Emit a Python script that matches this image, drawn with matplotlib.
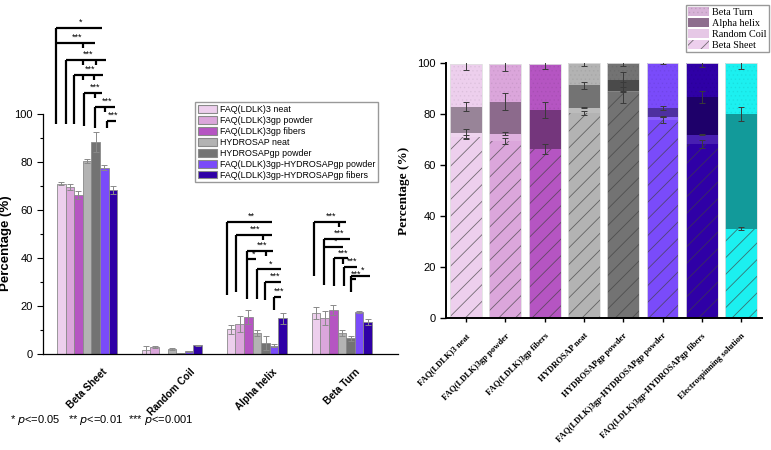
import numpy as np
import matplotlib
matplotlib.use("Agg")
import matplotlib.pyplot as plt
from matplotlib.patches import Patch
from matplotlib.colors import to_rgb
from matplotlib.transforms import ScaledTranslation

plt.rcParams['font.family'] = ['Liberation Sans', 'DejaVu Sans']
plt.rcParams['hatch.linewidth'] = 0.6

# samples and secondary structure content (%)
samples = ["FAQ(LDLK)3 neat", "FAQ(LDLK)3gp powder", "FAQ(LDLK)3gp fibers",
           "HYDROSAP neat", "HYDROSAPgp powder",
           "FAQ(LDLK)3gp-HYDROSAPgp powder", "FAQ(LDLK)3gp-HYDROSAPgp fibers"]
structures = ["Beta Sheet", "Random Coil", "Alpha helix", "Beta Turn"]

beta_sheet = [71.0, 69.5, 66.3, 80.5, 88.5, 77.7, 68.3]
beta_sheet_err = [0.7, 1.2, 1.8, 0.8, 4.2, 1.2, 1.6]
random_coil = [1.5, 2.8, 0.0, 2.0, 0.4, 1.2, 3.6]
random_coil_err = [1.8, 0.5, 0.0, 0.3, 0.1, 0.2, 0.1]
alpha_helix = [10.3, 12.5, 15.3, 8.7, 4.5, 3.5, 14.8]
alpha_helix_err = [1.8, 3.3, 3.0, 1.3, 3.0, 0.7, 2.3]
beta_turn = [17.0, 15.0, 18.2, 8.7, 6.5, 17.5, 13.2]
beta_turn_err = [2.6, 2.8, 2.1, 1.2, 1.0, 0.3, 1.3]

# electrospinning solution (only in the stacked chart)
es_name = "Electrospinning solution"
es_values = [35.0, 0.0, 45.0, 20.0]
es_err = [0.5, 0.0, 2.6, 2.3]

colors = ['#EDCFED', '#DBA6DB', '#B555C2', '#B3B3B3', '#737373', '#7A4BFA', '#2F00A6']
es_color = '#1CF0F0'

# significance brackets: (group, start slot, end slot, top, bottom, tick slots, label)
brackets = [
    (0, -0.62, 4.73, 135.8, 96.0, [], '*'),
    (0, -0.62, 3.92, 129.6, None, [2.52], '***'),
    (0, 0.55, 5.2, 122.5, 96.0, [2.52, 4.03], '***'),
    (0, 1.48, 4.85, 116.3, 96.0, [2.52, 3.8], '***'),
    (0, 2.64, 4.73, 108.75, 95.0, [3.9], '***'),
    (0, 3.92, 6.24, 102.9, 94.0, [5.08], '***'),
    (0, 5.31, 6.36, 97.1, 94.0, [], '***'),
    (2, -0.47, 4.77, 55.1, 24.6, [], '**'),
    (2, 0.51, 4.7, 49.6, 26.0, [3.72], '***'),
    (2, 1.86, 4.88, 43.0, 22.9, [4.0], '***'),
    (2, 1.86, 2.87, 39.5, None, [], '*'),
    (2, 3.0, 5.77, 35.3, 22.9, [], '*'),
    (2, 3.98, 5.77, 30.1, 22.5, [], '***'),
    (2, 4.95, 5.84, 23.9, 18.3, [], '***'),
    (3, -0.23, 3.43, 55.1, 32.5, [2.67], '***'),
    (3, 0.9, 3.97, 47.9, 28.75, [], '***'),
    (3, 0.9, 3.15, 44.7, None, [], '*'),
    (3, 2.09, 3.72, 39.9, 28.3, [3.07], '***'),
    (3, 3.24, 4.72, 36.4, 28.3, [], '***'),
    (3, 4.1, 6.3, 32.5, 26.0, [], '*'),
    (3, 4.1, 4.69, 31.1, None, [], '***'),
]

data = np.array([beta_sheet, random_coil, alpha_helix, beta_turn])
errs = np.array([beta_sheet_err, random_coil_err, alpha_helix_err, beta_turn_err])

fig = plt.figure(figsize=(7.71, 4.5), dpi=100)

# ---------------- left: grouped bars ----------------
ax = fig.add_axes([43 / 771, 1 - 354 / 450, (398 - 43) / 771, (354 - 114) / 450])
groups = np.arange(len(structures))
bw = 0.1012
for i, c in enumerate(colors):
    x = groups + (i - 3) * bw
    ax.bar(x, data[:, i], bw, color=c, edgecolor='#8a8a8a', linewidth=0.6, label=samples[i])
    m = data[:, i] > 0
    ax.errorbar(x[m], data[m, i], yerr=errs[m, i], fmt='none', ecolor='#8a8a8a',
                elinewidth=0.7, capsize=2, capthick=0.7)

for g, u0, u1, top, bottom, ticks, lab in brackets:
    x0 = g + (u0 - 3) * bw
    x1 = g + (u1 - 3) * bw
    kw = dict(color='black', lw=1.6, clip_on=False, solid_capstyle='butt')
    ax.plot([x0, x1], [top, top], **kw)
    if bottom is not None:
        ax.plot([x0, x0], [bottom, top], **kw)
    for t in ticks:
        xt = g + (t - 3) * bw
        ax.plot([xt, xt], [top, top - 2.2], **kw)
    ax.text((x0 + x1) / 2 + 0.02, top + 0.4, lab, ha='center', va='bottom',
            fontsize=6.5, clip_on=False)

ax.set_xlim(-0.518, 3.66)
ax.set_ylim(0, 100)
ax.set_yticks(range(0, 101, 20))
ax.set_yticks(range(10, 100, 20), minor=True)
ax.set_xticks(groups)
ax.set_xticklabels(structures, rotation=45, ha='center', va='top', fontsize=7.2, fontweight='bold')
ax.tick_params(axis='x', length=0, pad=9)
ax.tick_params(axis='y', labelsize=8, length=4, width=0.8)
ax.tick_params(axis='y', which='minor', length=2.5, width=0.8)
ax.set_ylabel('Percentage (%)', fontsize=9.5, fontweight='bold')
ax.yaxis.set_label_coords(-31 / 355, 0.46)
for s in ['top', 'right']:
    ax.spines[s].set_visible(False)
for s in ['left', 'bottom']:
    ax.spines[s].set_linewidth(0.9)

handles = [Patch(facecolor=c, edgecolor='#8a8a8a', linewidth=0.8) for c in colors]
fig.legend(handles, samples, loc='upper left', bbox_to_anchor=(195 / 771, 1 - 102 / 450),
           fontsize=6.4, frameon=True, fancybox=False, edgecolor='#999999', framealpha=1,
           borderpad=0.3, labelspacing=0.22, handlelength=2.2, handleheight=1.0,
           handletextpad=0.35, borderaxespad=0)

notes = [(10, '* $\\it{p}$<=0.05'), (68, '** $\\it{p}$<=0.01'), (128, '*** $\\it{p}$<=0.001')]
for px, s in notes:
    fig.text(px / 771, 1 - 420 / 450, s, fontsize=8, va='center', ha='left')

# ---------------- right: stacked bars ----------------
ax2 = fig.add_axes([446 / 771, 1 - 318 / 450, (762 - 446) / 771, (318 - 63) / 450])
names2 = samples + [es_name]
stack = np.column_stack([data, es_values])
stack_err = np.column_stack([errs, es_err])
cols2 = colors + [es_color]
xs = np.arange(len(names2))
w2 = 0.81


def shade(c, f):
    r = np.array(to_rgb(c))
    return tuple(r * f)


def tint(c, f):
    r = np.array(to_rgb(c))
    return tuple(r + (1 - r) * f)


bottoms = np.zeros(len(names2))
for k, name in enumerate(structures):
    for j in range(len(names2)):
        base = cols2[j]
        if name == 'Beta Sheet':
            fc, hatch, hc = base, '//', (0.25, 0.25, 0.25, 0.7)
        elif name == 'Random Coil':
            fc, hatch, hc = tint(base, 0.12), None, (0, 0, 0, 0)
        elif name == 'Alpha helix':
            fc, hatch, hc = shade(base, 0.64), None, (0, 0, 0, 0)
        else:
            fc, hatch, hc = base, '....', (0, 0, 0, 0.05)
        ax2.bar(xs[j], stack[k, j], w2, bottom=bottoms[j], color=fc, hatch=hatch,
                edgecolor=hc, linewidth=0)
    tops = bottoms + stack[k]
    m = stack[k] > 0
    ax2.errorbar(xs[m], tops[m], yerr=stack_err[k, m], fmt='none', ecolor='#3a3a3a',
                 elinewidth=0.7, capsize=2, capthick=0.7)
    bottoms = tops

ax2.bar(xs, bottoms, w2, fill=False, edgecolor='#e0e0e0', linewidth=0.6)

ax2.set_xlim(-0.51, 7.53)
ax2.set_ylim(0, 100)
ax2.set_yticks(range(0, 101, 20))
ax2.set_xticks(xs)
ax2.set_xticklabels(names2, rotation=45, ha='right', rotation_mode='anchor',
                    fontsize=6.2, fontweight='bold', family=['Liberation Serif', 'DejaVu Serif'])
shift = ScaledTranslation(6 / 100, 0, fig.dpi_scale_trans)
for lbl in ax2.get_xticklabels():
    lbl.set_transform(lbl.get_transform() + shift)
ax2.tick_params(axis='y', labelsize=8, length=4, width=1)
ax2.tick_params(axis='x', length=3, width=1, pad=7)
ax2.set_ylabel('Percentage (%)', fontsize=9.5, fontweight='bold',
               family=['Liberation Serif', 'DejaVu Serif'])
ax2.yaxis.set_label_coords(-36 / 316, 0.5)
for s in ['top', 'right']:
    ax2.spines[s].set_visible(False)
for s in ['left', 'bottom']:
    ax2.spines[s].set_linewidth(1.4)

lg_handles = [Patch(facecolor='#D7B3D7', hatch='....', edgecolor=(0, 0, 0, 0.08), linewidth=0),
              Patch(facecolor='#8E6E8E', linewidth=0),
              Patch(facecolor='#E6C8E6', linewidth=0),
              Patch(facecolor='#EDCFED', hatch='//', edgecolor=(0.25, 0.25, 0.25, 0.7), linewidth=0)]
lg_labels = ['Beta Turn', 'Alpha helix', 'Random Coil', 'Beta Sheet']
fig.legend(lg_handles, lg_labels, loc='upper right', bbox_to_anchor=(769 / 771, 1 - 5 / 450),
           prop={'family': ['Liberation Serif', 'DejaVu Serif'], 'size': 7.3},
           frameon=True, fancybox=False, edgecolor='#999999', framealpha=1,
           borderpad=0.2, labelspacing=0.1, handlelength=2.1, handleheight=1.0,
           handletextpad=0.3, borderaxespad=0)

fig.savefig('out.png', dpi=100)
